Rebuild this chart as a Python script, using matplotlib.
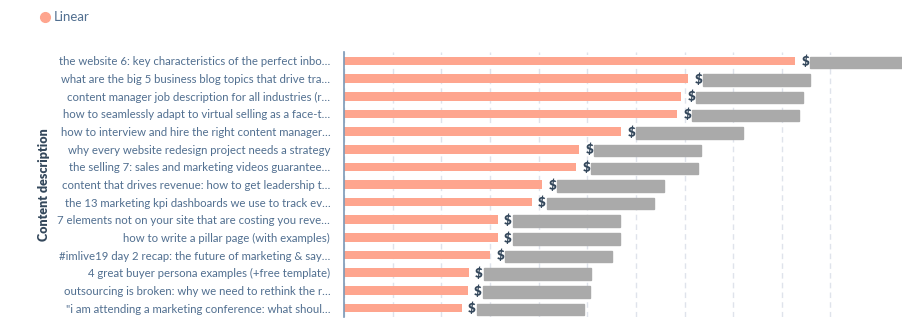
import matplotlib
matplotlib.use("Agg")
import matplotlib.pyplot as plt
from matplotlib.lines import Line2D
from matplotlib.patches import Rectangle

# === DATA ===
titles = [
    "the website 6: key characteristics of the perfect inbo…",
    "what are the big 5 business blog topics that drive tra…",
    "content manager job description for all industries (r…",
    "how to seamlessly adapt to virtual selling as a face-t…",
    "how to interview and hire the right content manager…",
    "why every website redesign project needs a strategy",
    "the selling 7: sales and marketing videos guarantee…",
    "content that drives revenue: how to get leadership t…",
    "the 13 marketing kpi dashboards we use to track ev…",
    "7 elements not on your site that are costing you reve…",
    "how to write a pillar page (with examples)",
    "#imlive19 day 2 recap: the future of marketing & say…",
    "4 great buyer persona examples (+free template)",
    "outsourcing is broken: why we need to rethink the r…",
    "\"i am attending a marketing conference: what shoul…",
]
linear = [9.27, 7.07, 6.93, 6.85, 5.70, 4.83, 4.77, 4.07, 3.86,
          3.16, 3.16, 3.00, 2.56, 2.54, 2.42]
grid_ticks = [0, 1, 2, 3, 4, 5, 6, 7, 8, 9, 10]

# === STYLE ===
BAR = "#fea58e"
DARK = "#33475b"
LABEL = "#516f90"
SPINE = "#7c98b6"
GRID = "#dfe3eb"
MASK = "#aaaaaa"

plt.rcParams['font.family'] = ['Lato', 'DejaVu Sans']

fig = plt.figure(figsize=(9.03, 3.26), dpi=100)
ax = fig.add_axes([0.381, 0.028, 0.571, 0.812])

ypos = list(range(len(titles)))
ax.barh(ypos, linear, height=0.49, color=BAR, zorder=2)

ax.set_ylim(len(titles) - 0.5, -0.5)
ax.set_xlim(0, 10.6)
ax.set_xticks(grid_ticks)
ax.set_xticklabels([])
ax.tick_params(axis='x', length=0)
ax.tick_params(axis='y', length=0, pad=10, labelsize=8.2, labelcolor=LABEL)
ax.set_yticks(ypos)
ax.set_yticklabels(titles)
ax.grid(axis='x', color=GRID, linestyle=(0, (4, 3)), linewidth=1, zorder=0)

for side in ['top', 'right', 'bottom']:
    ax.spines[side].set_visible(False)
ax.spines['left'].set_color(SPINE)
ax.spines['left'].set_linewidth(1.2)

ax.set_ylabel("Content description", fontsize=9, fontweight='heavy',
              color=DARK)
ax.yaxis.set_label_coords(-0.571, 0.5)

# value labels ("$" + masked amount)
for y, v in zip(ypos, linear):
    ax.text(v + 0.13, y + 0.05, "$", fontsize=9.5, fontweight='heavy',
            color=DARK, va='center', ha='left', clip_on=False, zorder=3)
    ax.add_patch(Rectangle((v + 0.31, y - 0.245), 2.2, 0.65,
                           color=MASK, clip_on=False, zorder=4))

# legend
fig.add_artist(Line2D([45 / 903], [1 - 17 / 326], marker='o', markersize=7,
                      color=BAR, linestyle='', transform=fig.transFigure))
fig.text(54 / 903, 1 - 17 / 326, "Linear", fontsize=9.5, color=LABEL,
         va='center', ha='left')

fig.savefig("out.png", dpi=100)
